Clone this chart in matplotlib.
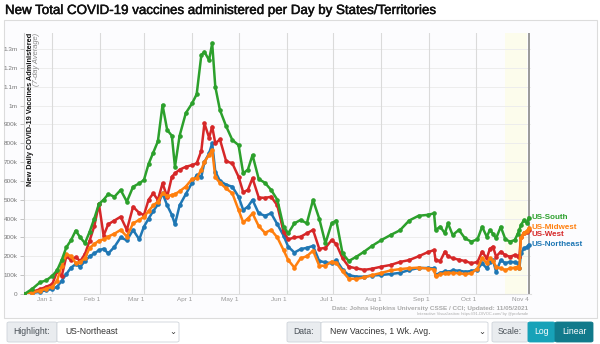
import numpy as np
import pandas as pd
import matplotlib
matplotlib.use("Agg")
import matplotlib.pyplot as plt
import matplotlib.patheffects as pe
from matplotlib.patches import Rectangle, FancyBboxPatch

plt.rcParams["font.family"] = ["Liberation Sans", "DejaVu Sans"]

# ===================== Data (7-day avg, thousands of doses per day) =====================

dates = [
    "2020-12-14", "2020-12-19", "2020-12-24", "2020-12-28", "2021-01-01", "2021-01-04",
    "2021-01-07", "2021-01-10", "2021-01-13", "2021-01-16", "2021-01-19", "2021-01-22",
    "2021-01-25", "2021-01-28", "2021-01-31", "2021-02-03", "2021-02-06", "2021-02-10",
    "2021-02-14", "2021-02-18", "2021-02-22", "2021-02-26", "2021-03-01", "2021-03-04",
    "2021-03-07", "2021-03-10", "2021-03-13", "2021-03-16", "2021-03-19", "2021-03-21",
    "2021-03-24", "2021-03-28", "2021-04-01", "2021-04-04", "2021-04-07", "2021-04-09",
    "2021-04-12", "2021-04-14", "2021-04-16", "2021-04-19", "2021-04-23", "2021-04-27",
    "2021-05-01", "2021-05-04", "2021-05-07", "2021-05-10", "2021-05-14", "2021-05-18",
    "2021-05-22", "2021-05-26", "2021-05-30", "2021-06-02", "2021-06-06", "2021-06-10",
    "2021-06-14", "2021-06-18", "2021-06-22", "2021-06-26", "2021-06-30", "2021-07-03",
    "2021-07-07", "2021-07-11", "2021-07-16", "2021-07-21", "2021-07-26", "2021-08-01",
    "2021-08-07", "2021-08-13", "2021-08-19", "2021-08-25", "2021-08-31", "2021-09-04",
    "2021-09-05", "2021-09-08", "2021-09-11", "2021-09-13", "2021-09-16", "2021-09-20",
    "2021-09-24", "2021-09-28", "2021-10-02", "2021-10-05", "2021-10-08", "2021-10-10",
    "2021-10-12", "2021-10-14", "2021-10-17", "2021-10-20", "2021-10-23", "2021-10-26",
    "2021-10-28", "2021-10-29", "2021-10-30", "2021-11-01", "2021-11-03", "2021-11-04",
]

us_south = [
    0, 27, 62, 72, 97, 125, 180, 248, 285, 336, 300, 270,
    330, 400, 478, 500, 530, 516, 552, 490, 569, 587, 605, 690,
    750, 810, 1003, 870, 840, 675, 840, 960, 1011, 1060, 1268, 1285,
    1241, 1330, 1100, 976, 890, 817, 790, 640, 660, 737, 610, 590,
    552, 500, 357, 322, 375, 393, 375, 499, 400, 269, 375, 390,
    216, 175, 198, 225, 255, 286, 313, 338, 390, 415, 420, 428,
    340, 357, 322, 375, 313, 340, 295, 278, 290, 357, 304, 340,
    320, 295, 357, 290, 278, 286, 320, 340, 365, 393, 375, 405,
]

us_midwest = [
    0, 7, 18, 28, 39, 70, 150, 212, 200, 165, 170, 190,
    245, 265, 283, 290, 305, 320, 340, 305, 375, 393, 410, 440,
    470, 490, 534, 520, 525, 530, 545, 570, 610, 615, 660, 700,
    740, 764, 620, 590, 560, 534, 446, 380, 400, 428, 360, 325,
    340, 300, 233, 180, 140, 190, 200, 230, 150, 150, 172, 165,
    120, 82, 80, 88, 100, 112, 125, 132, 137, 140, 135, 130,
    95, 105, 110, 112, 112, 110, 106, 110, 135, 190, 163, 189,
    175, 145, 136, 127, 136, 140, 145, 140, 300, 325, 335, 348,
]

us_west = [
    0, 12, 25, 38, 53, 120, 95, 200, 180, 195, 175, 212,
    283, 360, 478, 310, 370, 390, 410, 340, 463, 430, 419, 500,
    534, 499, 587, 516, 622, 640, 660, 675, 684, 693, 760, 905,
    830, 888, 800, 820, 705, 693, 622, 540, 552, 614, 512, 510,
    516, 470, 330, 290, 300, 304, 322, 340, 240, 245, 286, 265,
    190, 145, 136, 128, 134, 145, 154, 170, 180, 200, 222, 233,
    180, 175, 225, 200, 190, 182, 175, 163, 170, 225, 189, 240,
    251, 198, 225, 205, 198, 207, 200, 198, 304, 322, 330, 338,
]

us_northeast = [
    0, 5, 12, 20, 27, 38, 70, 106, 140, 158, 145, 175,
    200, 215, 232, 240, 215, 250, 300, 285, 340, 290, 357, 400,
    440, 475, 534, 470, 420, 370, 470, 530, 590, 630, 622, 700,
    746, 800, 650, 600, 580, 569, 516, 446, 463, 499, 428, 415,
    428, 370, 310, 251, 220, 238, 245, 255, 175, 168, 163, 180,
    130, 100, 92, 92, 98, 101, 106, 112, 127, 138, 138, 136,
    101, 112, 120, 118, 125, 124, 118, 122, 130, 163, 136, 170,
    180, 118, 180, 163, 172, 168, 163, 136, 216, 242, 250, 260,
]

regions = ["US-South", "US-Midwest", "US-West", "US-Northeast"]
colors = ["#2ca02c", "#ff7f0e", "#d62728", "#1f77b4"]
label_y = [408, 352, 318, 262]   # label anchor values (k) beside the last point

month_ticks = ["2021-01-01", "2021-02-01", "2021-03-01", "2021-04-01", "2021-05-01",
               "2021-06-01", "2021-07-01", "2021-08-01", "2021-09-01", "2021-10-01", "2021-11-04"]
month_labels = ["Jan 1", "Feb 1", "Mar 1", "Apr 1", "May 1", "Jun 1",
                "Jul 1", "Aug 1", "Sep 1", "Oct 1", "Nov 4"]

y_ticks = [0, 100, 200, 300, 400, 500, 600, 700, 800, 900, 1000, 1100, 1200, 1300]
y_labels = ["0", "100k", "200k", "300k", "400k", "500k", "600k", "700k", "800k",
            "900k", "1m", "1.1m", "1.2m", "1.3m"]

# ===================== Helpers =====================

W, H = 600, 344

def fx(x):
    return x / W

def fy(y):
    return 1 - y / H

# ===================== Figure =====================

fig = plt.figure(figsize=(W / 100, H / 100), dpi=100)
fig.patch.set_facecolor("white")

# chart panel frame
fig.patches.append(Rectangle((fx(4), fy(318)), fx(593), 298 / H, transform=fig.transFigure,
                             facecolor="#fcfcfe", edgecolor="#dcdcdc", lw=0.8, zorder=-5))

fig.text(fx(5), fy(11), "New Total COVID-19 vaccines administered per Day by States/Territories",
         fontsize=9.6, color="#111", va="center", ha="left",
         path_effects=[pe.withStroke(linewidth=0.35, foreground="#111")])

ax = fig.add_axes([fx(24), fy(294), fx(531 - 24), (294 - 33) / H])
ax.set_facecolor("#fcfcfe")

x = pd.to_datetime(dates)
d0 = pd.Timestamp("2021-01-01")
days = (x - d0).days.values

series = [us_south, us_midwest, us_west, us_northeast]

# recent-data band and "today" marker
ax.axvspan((pd.Timestamp("2021-10-20") - d0).days, (pd.Timestamp("2021-11-03") - d0).days,
           color="#fcfcec", zorder=0, lw=0)

for vals, c in zip(series[::-1], colors[::-1]):
    ax.plot(days, vals, color=c, lw=1.8, marker="o", ms=2.3, zorder=3)

ax.axvline(days[-1], color="#9a9a9a", lw=1.4, zorder=2)

tick_days = [(pd.Timestamp(t) - d0).days for t in month_ticks]
for t in tick_days[:-1]:
    ax.axvline(t, color="#dadada", lw=0.8, zorder=1)
ax.set_yticks(y_ticks)
ax.set_yticklabels(y_labels)
ax.grid(axis="y", color="#ededed", lw=0.7, zorder=0)
ax.set_axisbelow(True)

ax.set_xticks(tick_days)
ax.set_xticklabels(month_labels)
for lbl in ax.get_xticklabels():
    lbl.set_horizontalalignment("right")

ax.tick_params(axis="x", length=0, pad=2, labelsize=4.6, labelcolor="#999")
ax.tick_params(axis="y", length=3, width=0.6, color="#bbb", pad=1.5, labelsize=4.6, labelcolor="#777")

ax.set_xlim(-18.3, 308.5)
ax.set_ylim(0, 1385)

for s in ["top", "right"]:
    ax.spines[s].set_visible(False)
ax.spines["left"].set_color("#cccccc")
ax.spines["bottom"].set_color("#dddddd")
ax.spines["left"].set_linewidth(0.8)
ax.spines["bottom"].set_linewidth(0.8)

# y axis title inside the plot
ax.text(0.012, 1.0, "New Daily COVID-19 Vaccines Administered", transform=ax.transAxes,
        rotation=90, ha="center", va="top", fontsize=5.3, color="#111", fontweight="bold")
ax.text(0.025, 1.0, "(7-day Average)", transform=ax.transAxes,
        rotation=90, ha="center", va="top", fontsize=5.4, color="#888", style="italic")

# end-of-line labels
for name, c, ly in zip(regions, colors, label_y):
    ax.text(days[-1] + 1.5, ly, name, color=c, fontsize=5.8, fontweight="bold",
            va="center", ha="left", clip_on=False)

# source notes
fig.text(fx(528), fy(308.5), "Data: Johns Hopkins University CSSE / CCI; Updated: 11/05/2021",
         fontsize=4.6, color="#aaa", ha="right", va="center", fontweight="bold")
fig.text(fx(528), fy(314), "Interactive Visualization: https://91-DIVOC.com/ by @profwade",
         fontsize=2.9, color="#aaa", ha="right", va="center")

# ===================== Controls bar =====================

def box(x0, x1, face, edge="#ced4da"):
    fig.patches.append(FancyBboxPatch((fx(x0), fy(342)), fx(x1 - x0), 20 / H,
                                      boxstyle="round,pad=0,rounding_size=0.004",
                                      transform=fig.transFigure, facecolor=face,
                                      edgecolor=edge, lw=0.6, zorder=1))

box(7, 57, "#e9ecef")
box(57, 179, "white")
box(287, 321, "#e9ecef")
box(321, 488, "white")
box(492, 528, "#e9ecef")
box(528, 555, "#17a2b8", edge="#17a2b8")
box(555, 593, "#117a8b", edge="#117a8b")

cy = fy(332)
fig.text(fx(32), cy, "Highlight:", fontsize=6.2, color="#495057", ha="center", va="center")
fig.text(fx(65), cy, "US-Northeast", fontsize=6.2, color="#333", ha="left", va="center")
fig.text(fx(173), cy, "\u2304", fontsize=6, color="#333", ha="center", va="center")
fig.text(fx(304), cy, "Data:", fontsize=6.2, color="#495057", ha="center", va="center")
fig.text(fx(330), cy, "New Vaccines, 1 Wk. Avg.", fontsize=6.2, color="#333", ha="left", va="center")
fig.text(fx(482), cy, "\u2304", fontsize=6, color="#333", ha="center", va="center")
fig.text(fx(510), cy, "Scale:", fontsize=6.2, color="#495057", ha="center", va="center")
fig.text(fx(541.5), cy, "Log", fontsize=6.2, color="white", ha="center", va="center")
fig.text(fx(574), cy, "Linear", fontsize=6.2, color="white", ha="center", va="center")

fig.savefig("out.png", dpi=100)
plt.close(fig)
